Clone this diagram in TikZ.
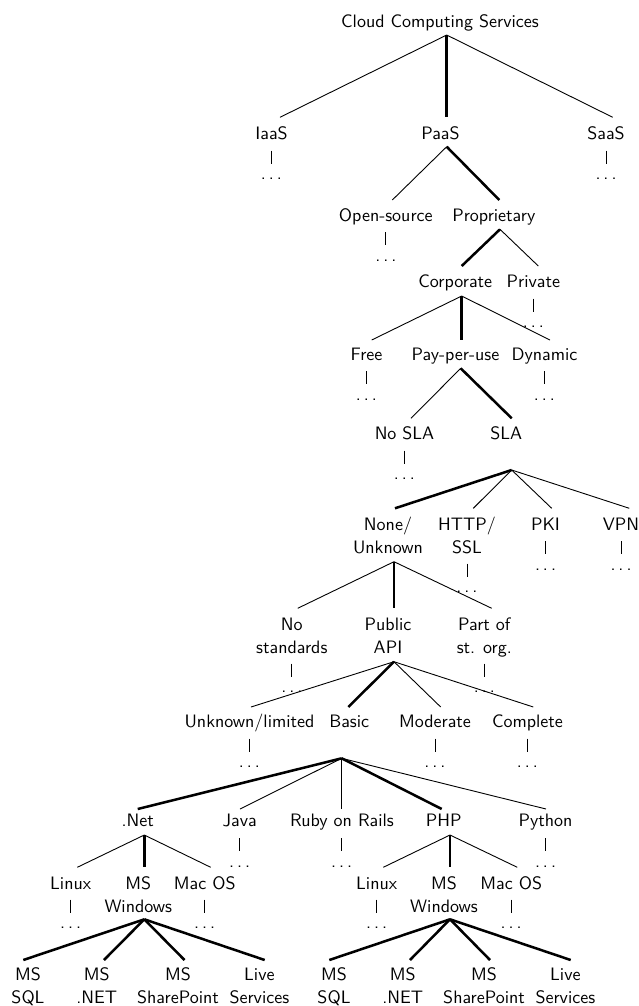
\documentclass[tikz,border=0pt]{standalone}
\renewcommand\arraystretch{1.08}
\newcommand\twoln[2]{\begin{tabular}[t]{@{}c@{}}#1\\#2\end{tabular}}
\newcommand\mydots{.\kern.1667em.\kern.1667em.}
\begin{document}
\begin{tikzpicture}[x=0.5556pt,y=-0.5556pt,
  lbl/.style={anchor=base,inner sep=0pt,font=\sffamily},
  thinedge/.style={line width=0.5pt},
  thickedge/.style={line width=1.4pt},
  vline/.style={line width=0.5pt}]
\useasboundingbox (0,0) rectangle (639,1006);

% ---------- Level 0
\node[lbl] (root) at (440,27.7) {Cloud Computing Services};
\coordinate (root-b) at (446.7,35);

% ---------- Level 1
\node[lbl] (iaas) at (271.5,139.5) {IaaS};
\coordinate (iaas-t) at (280,117.3);
\node[lbl] (iaasd) at (271.5,179.5) {\mydots};
\node[lbl] (paas) at (440.5,139.5) {PaaS};
\coordinate (paas-t) at (446.7,117.3);
\coordinate (paas-b) at (446.7,146.7);
\node[lbl] (saas) at (606,139.5) {SaaS};
\coordinate (saas-t) at (612.7,117.3);
\node[lbl] (saasd) at (606,179.5) {\mydots};

% ---------- Level 2
\node[lbl] (opens) at (385.8,221.7) {Open-source};
\coordinate (opens-t) at (392.3,200);
\node[lbl] (opensd) at (385.8,261) {\mydots};
\node[lbl] (propr) at (493.8,221.7) {Proprietary};
\coordinate (propr-t) at (499.3,200);
\coordinate (propr-b) at (500,229.3);

% ---------- Level 3
\node[lbl] (corp) at (455.3,287.7) {Corporate};
\coordinate (corp-t) at (461.7,266);
\coordinate (corp-b) at (461.7,296);
\node[lbl] (priv) at (533.3,287.7) {Private};
\coordinate (priv-t) at (538.3,266);
\node[lbl] (privd) at (533.3,327.7) {\mydots};

% ---------- Level 4
\node[lbl] (free) at (366.5,360) {Free};
\coordinate (free-t) at (371.7,340);
\node[lbl] (freed) at (366.5,400) {\mydots};
\node[lbl] (pay) at (455.5,360) {Pay-per-use};
\coordinate (pay-t) at (461.7,340);
\coordinate (pay-b) at (460.7,368.3);
\node[lbl] (dyn) at (544.5,360) {Dynamic};
\coordinate (dyn-t) at (550,340);
\node[lbl] (dynd) at (544.5,400) {\mydots};

% ---------- Level 5
\node[lbl] (nosla) at (404.5,439.3) {No SLA};
\coordinate (nosla-t) at (411,418.3);
\node[lbl] (noslad) at (404.5,479.5) {\mydots};
\node[lbl] (sla) at (506.2,439.3) {SLA};
\coordinate (sla-t) at (511.7,418.3);
\coordinate (sla-b) at (511.7,470);

% ---------- Level 6
\node[lbl] (none) at (388,530) {\twoln{None/}{Unknown}};
\coordinate (none-t) at (395,508.3);
\coordinate (none-b) at (394,561.7);
\node[lbl] (http) at (467,530) {\twoln{HTTP/}{SSL}};
\coordinate (http-t) at (473.3,508.3);
\node[lbl] (httpd) at (467,592.7) {\mydots};
\node[lbl] (pki) at (545.5,530) {PKI};
\coordinate (pki-t) at (551.7,508.3);
\node[lbl] (pkid) at (545.5,570) {\mydots};
\node[lbl] (vpn) at (621,530) {VPN};
\coordinate (vpn-t) at (629.3,508.3);
\node[lbl] (vpnd) at (621,570) {\mydots};

% ---------- Level 7
\node[lbl] (nostd) at (291.8,630) {\twoln{No}{standards}};
\coordinate (nostd-t) at (297.7,608.3);
\node[lbl] (nostdd) at (291.8,692.7) {\mydots};
\node[lbl] (papi) at (388,630) {\twoln{Public}{API}};
\coordinate (papi-t) at (394,608.3);
\coordinate (papi-b) at (394,661.7);
\node[lbl] (partof) at (484.3,630) {\twoln{Part of}{st. org.}};
\coordinate (partof-t) at (491.7,608.3);
\node[lbl] (partofd) at (484.3,692.7) {\mydots};

% ---------- Level 8
\node[lbl] (unk) at (249.5,727.3) {Unknown/limited};
\coordinate (unk-t) at (251,707);
\node[lbl] (unkd) at (249.5,767.7) {\mydots};
\node[lbl] (basic) at (349.2,727.3) {Basic};
\coordinate (basic-t) at (348.3,707);
\coordinate (basic-b) at (341.7,758.3);
\node[lbl] (mod) at (435,727.3) {Moderate};
\coordinate (mod-t) at (440.7,707);
\node[lbl] (modd) at (435,767.7) {\mydots};
\node[lbl] (compl) at (527.5,727.3) {Complete};
\coordinate (compl-t) at (533.3,707);
\node[lbl] (compld) at (527.5,767.7) {\mydots};

% ---------- Level 9
\node[lbl] (net) at (137.8,826.7) {.Net};
\coordinate (net-t) at (137.7,809);
\coordinate (net-b) at (144.3,835);
\node[lbl] (java) at (239.7,826.7) {Java};
\coordinate (java-t) at (240,809);
\node[lbl] (javad) at (239.7,867) {\mydots};
\node[lbl] (ruby) at (342,826.7) {Ruby on Rails};
\coordinate (ruby-t) at (341.7,809);
\node[lbl] (rubyd) at (341.7,867) {\mydots};
\node[lbl] (php) at (443.7,826.7) {PHP};
\coordinate (php-t) at (441.7,809);
\coordinate (php-b) at (450,835);
\node[lbl] (python) at (545.5,826.7) {Python};
\coordinate (python-t) at (546,809);
\node[lbl] (pythond) at (545.5,867) {\mydots};

% ---------- Level 10
\node[lbl] (lina) at (70.7,889) {Linux};
\coordinate (lina-t) at (77.3,867.3);
\node[lbl] (linad) at (70.7,928.5) {\mydots};
\node[lbl] (wina) at (138.3,889) {\twoln{MS}{Windows}};
\coordinate (wina-t) at (144.3,867.3);
\coordinate (wina-b) at (144.3,919.3);
\node[lbl] (maca) at (204.7,889) {Mac OS};
\coordinate (maca-t) at (210.7,867.3);
\node[lbl] (macad) at (204.7,928.5) {\mydots};

\node[lbl] (linb) at (376.7,889) {Linux};
\coordinate (linb-t) at (383.3,867.3);
\node[lbl] (linbd) at (376.7,928.5) {\mydots};
\node[lbl] (winb) at (444,889) {\twoln{MS}{Windows}};
\coordinate (winb-t) at (450,867.3);
\coordinate (winb-b) at (450,919.3);
\node[lbl] (macb) at (511.2,889) {Mac OS};
\coordinate (macb-t) at (517.3,867.3);
\node[lbl] (macbd) at (511.2,928.5) {\mydots};

% ---------- Level 11
\node[lbl] (sqla) at (28,980) {\twoln{MS}{SQL}};
\coordinate (sqla-t) at (23.3,960);
\node[lbl] (dna) at (96.7,980) {\twoln{MS}{.NET}};
\coordinate (dna-t) at (104,960);
\node[lbl] (spa) at (178,980) {\twoln{MS}{SharePoint}};
\coordinate (spa-t) at (184.5,960);
\node[lbl] (livea) at (259.4,980) {\twoln{Live}{Services}};
\coordinate (livea-t) at (264.7,960);

\node[lbl] (sqlb) at (334,980) {\twoln{MS}{SQL}};
\coordinate (sqlb-t) at (329.3,960);
\node[lbl] (dnb) at (402.7,980) {\twoln{MS}{.NET}};
\coordinate (dnb-t) at (410,960);
\node[lbl] (spb) at (484.1,980) {\twoln{MS}{SharePoint}};
\coordinate (spb-t) at (490,960);
\node[lbl] (liveb) at (565.4,980) {\twoln{Live}{Services}};
\coordinate (liveb-t) at (570.7,960);

% ---------- Edges
\draw[thinedge] (root-b) -- (iaas-t);
\draw[thickedge] (root-b) -- (paas-t);
\draw[thinedge] (root-b) -- (saas-t);

\draw[thinedge] (paas-b) -- (opens-t);
\draw[thickedge] (paas-b) -- (propr-t);

\draw[thickedge] (propr-b) -- (corp-t);
\draw[thinedge] (propr-b) -- (priv-t);

\draw[thinedge] (corp-b) -- (free-t);
\draw[thickedge] (corp-b) -- (pay-t);
\draw[thinedge] (corp-b) -- (dyn-t);

\draw[thinedge] (pay-b) -- (nosla-t);
\draw[thickedge] (pay-b) -- (sla-t);

\draw[thickedge] (sla-b) -- (none-t);
\draw[thinedge] (sla-b) -- (http-t);
\draw[thinedge] (sla-b) -- (pki-t);
\draw[thinedge] (sla-b) -- (vpn-t);

\draw[thinedge] (none-b) -- (nostd-t);
\draw[thickedge] (none-b) -- (papi-t);
\draw[thinedge] (none-b) -- (partof-t);

\draw[thinedge] (papi-b) -- (unk-t);
\draw[thickedge] (papi-b) -- (basic-t);
\draw[thinedge] (papi-b) -- (mod-t);
\draw[thinedge] (papi-b) -- (compl-t);

\draw[thickedge] (basic-b) -- (net-t);
\draw[thinedge] (basic-b) -- (java-t);
\draw[thinedge] (basic-b) -- (ruby-t);
\draw[thickedge] (basic-b) -- (php-t);
\draw[thinedge] (basic-b) -- (python-t);

\draw[thinedge] (net-b) -- (lina-t);
\draw[thickedge] (net-b) -- (wina-t);
\draw[thinedge] (net-b) -- (maca-t);
\draw[thinedge] (php-b) -- (linb-t);
\draw[thickedge] (php-b) -- (winb-t);
\draw[thinedge] (php-b) -- (macb-t);

\foreach \c in {sqla,dna,spa,livea}{\draw[thickedge] (wina-b) -- (\c-t);}
\foreach \c in {sqlb,dnb,spb,liveb}{\draw[thickedge] (winb-b) -- (\c-t);}

% ---------- single-child connectors to the dots
\foreach \d in {iaasd,saasd,opensd,privd,freed,dynd,noslad,httpd,pkid,vpnd,
  nostdd,partofd,unkd,modd,compld,javad,rubyd,pythond,linad,macad,linbd,macbd}{
  \draw[vline] (\d.base) ++(0,-29) -- ++(0,13);
}
\end{tikzpicture}
\end{document}
